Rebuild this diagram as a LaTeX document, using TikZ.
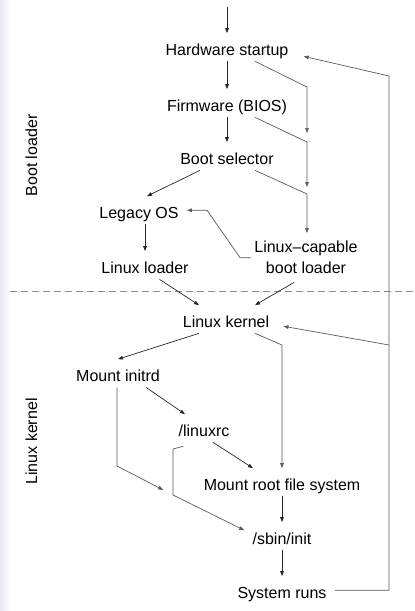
\documentclass[tikz,border=0pt]{standalone}
\usepackage{fontspec}
\setmainfont{Liberation Sans}
\usetikzlibrary{arrows.meta}
\definecolor{stripe}{HTML}{E8E8F2}
\tikzset{
  stage/.style={anchor=base, inner xsep=8pt, inner ysep=2pt, text height=19.5pt, text depth=4pt},
  side/.style={anchor=base, rotate=90},
  flow/.style={->, draw=black!85},
  route/.style={->, draw=black!65},
}
\begin{document}
\begin{tikzpicture}[x=1pt, y=-1pt, >={Stealth[length=5pt,width=3.6pt,inset=0pt]},
    font=\fontsize{16}{21}\selectfont, line width=0.7pt]

    \useasboundingbox (0,0) rectangle (415,611);
    \shade[left color=stripe, right color=white, draw=none] (0,0) rectangle (10,611);

    % Nodes of the boot loader part (top)
    \node[stage] (hw) at (227,55) {Hardware startup};
    \node[stage] (fw) at (227,111) {Firmware (BIOS)};
    \node[stage] (bs) at (227,164) {Boot selector};
    \node[stage] (legacy) at (139,218) {Legacy OS};
    \node[stage] (loader) at (145,273) {Linux loader};
    \node[anchor=north, align=center, inner xsep=3pt, inner ysep=8pt] (lcbl) at (306,233) {Linux--capable\\boot loader};

    % Nodes of the kernel part (bottom)
    \node[stage] (kernel) at (226,327) {Linux kernel};
    \node[stage] (initrd) at (118,381) {Mount initrd};
    \node[stage] (linuxrc) at (204,436) {/linuxrc};
    \node[stage] (root) at (282,490) {Mount root file system};
    \node[stage] (sbin) at (282,544) {/sbin/init};
    \node[stage] (runs) at (282,598) {System runs};

    % Side labels
    \node[side] (bootlbl) at (37,155.5) {Boot loader};
    \node[side] (kernlbl) at (37,441.5) {Linux kernel};

    % Joints of the bent connectors
    \coordinate (start) at (227,7);
    \coordinate (j1) at (307,87);
    \coordinate (j2) at (307,142);
    \coordinate (j3) at (307,194);
    \coordinate (b2) at (207,210.25);
    \coordinate (k1) at (282,345);
    \coordinate (m1) at (117,466);
    \coordinate (m2) at (173,449);
    \coordinate (m3) at (173,495);
    \coordinate (r2) at (389,76);
    \coordinate (r3) at (389,345);
    \coordinate (d1) at (10,291);
    \coordinate (d2) at (415,291);

    % Separator between the two parts
    \draw[black!45, dash pattern=on 6.5pt off 4.5pt] (d1) -- (d2);

    % Straight arrows
    \draw[flow] (start) -- (hw);
    \draw[flow] (hw) -- (fw);
    \draw[flow] (fw) -- (bs);
    \draw[flow] ([xshift=-27pt]bs.south) -- ([xshift=8pt]legacy.north);
    \draw[flow] ([xshift=6pt]legacy.south) -- (loader.north);
    \draw[flow] ([xshift=14.5pt]loader.south) -- ([xshift=-27pt]kernel.north);
    \draw[flow] ([xshift=-12pt]lcbl.south) -- ([xshift=29pt]kernel.north);
    \draw[flow] ([xshift=-27pt]kernel.south) -- (initrd.north);
    \draw[flow] ([xshift=28pt]initrd.south) -- ([xshift=-19pt]linuxrc.north);
    \draw[flow] ([xshift=9pt]linuxrc.south) -- ([xshift=-29pt]root.north);
    \draw[flow] (root) -- (sbin);
    \draw[flow] (sbin) -- (runs);

    % Bent arrows that join
    \draw[route, shorten >=9pt] ([xshift=28pt]hw.south) -- (j1) -- (j2);
    \draw[route, shorten >=7pt] ([xshift=28pt]fw.south) -- (j2) -- (j3);
    \draw[route] ([xshift=28pt]bs.south) -- (j3) -- (j3 |- lcbl.north);
    \draw[route] (lcbl.west) -- ++(-11,0) -- (b2) -- (legacy.east);
    \draw[route] ([xshift=29pt]kernel.south) -- (k1) -- (k1 |- root.north);
    \draw[route, shorten >=11pt] ([xshift=-1pt]initrd.south) -- (m1) -- (m3);
    \draw[route] ([xshift=-21pt,yshift=-4pt]linuxrc.south) -- (m2) -- (m3) -- ([yshift=6pt]sbin.west);

    % Loop back from the running system
    \draw[route] (runs.east) -| (r2) -- ([xshift=7pt,yshift=5pt]hw.south east);
    \draw[route] (r3) -- ([xshift=6pt,yshift=-7pt]kernel.east);

\end{tikzpicture}
\end{document}
